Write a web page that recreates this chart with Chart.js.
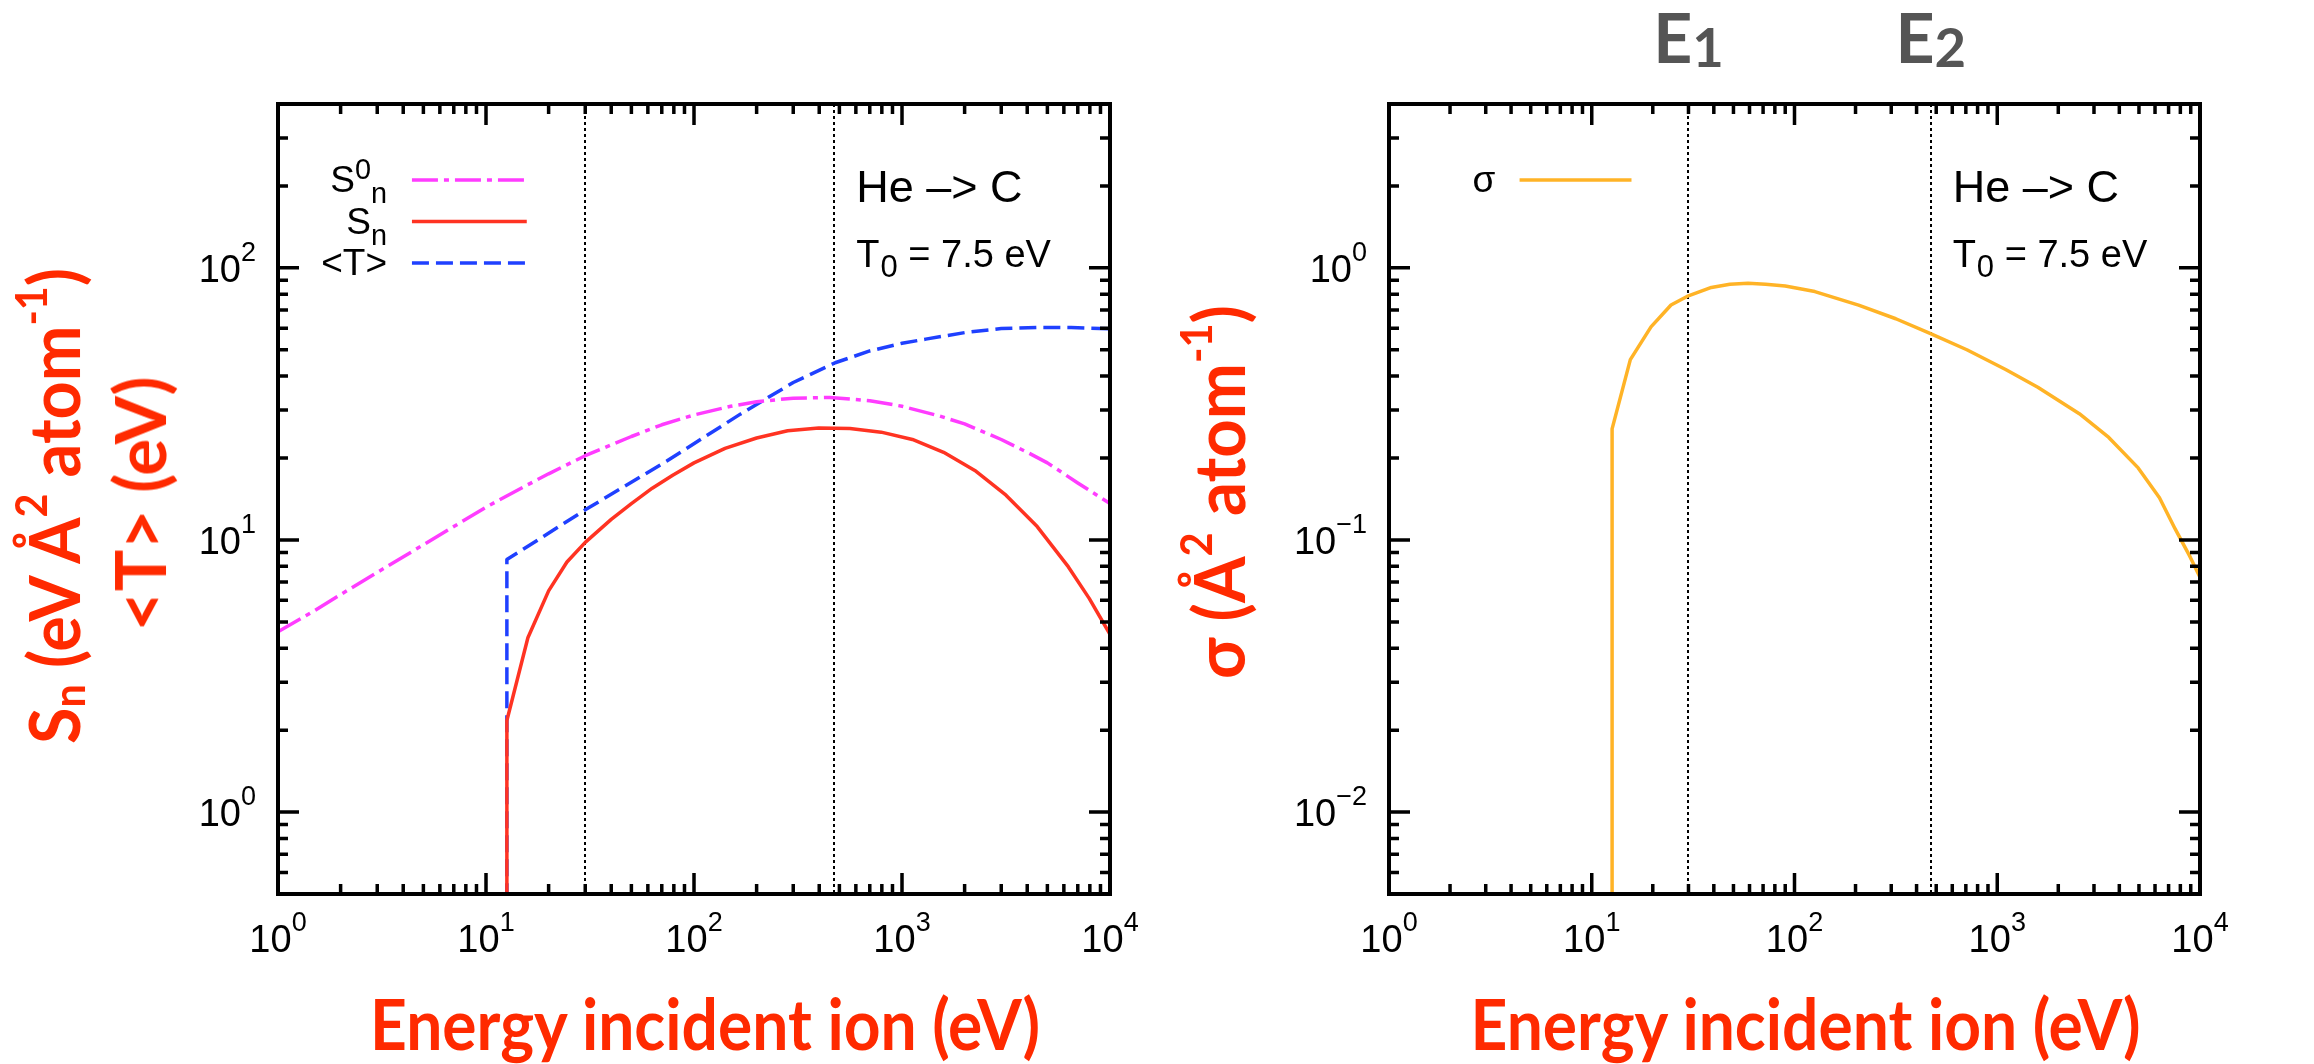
<!DOCTYPE html>
<html>
<head>
<meta charset="utf-8">
<title>He -> C: nuclear stopping, mean transfer and cross section</title>
<script src="https://cdn.jsdelivr.net/npm/chart.js@4.4.1/dist/chart.umd.min.js"></script>
<style>
  html, body { margin: 0; padding: 0; background: #fff; }
  body { width: 2314px; height: 1064px; position: relative; overflow: hidden; }
  canvas { position: absolute; top: 0; }
  #cLeft { left: 0; }
  #cRight { left: 1157px; }
  .title, .mark {
    position: absolute; left: 0; top: 0; white-space: nowrap; transform-origin: 0 0;
    font-family: "Lato", "Open Sans", sans-serif; font-weight: 700; line-height: 1;
  }
  .title { color: #ff2a00; }
  .mark { color: #555; }
  .title sub, .title sup { font-size: 0.62em; line-height: 0; }
  .title sup { vertical-align: 0.75em; }
  .title sub { vertical-align: -0.12em; }
  .mark sub { font-size: 0.8em; vertical-align: -0.08em; line-height: 0; }
</style>
</head>
<body>
<canvas id="cLeft" width="1157" height="1064"></canvas>
<canvas id="cRight" width="1157" height="1064"></canvas>

<div class="title" id="xTitleLeft">Energy incident ion (eV)</div>
<div class="title" id="xTitleRight">Energy incident ion (eV)</div>
<div class="title" id="yTitleLeft1">S<sub>n</sub> (eV Å<sup>2</sup> atom<sup>-1</sup>)</div>
<div class="title" id="yTitleLeft2">&lt;T&gt; (eV)</div>
<div class="title" id="yTitleRight">σ (Å<sup>2</sup> atom<sup>-1</sup>)</div>
<div class="mark" id="markE1">E<sub>1</sub></div>
<div class="mark" id="markE2">E<sub>2</sub></div>

<script>
// ---- data (energies in eV) ----
const energyS0 = [1, 1.5, 2, 3, 5, 7, 10, 15, 20, 30, 50, 70, 100, 150, 200, 300, 450, 700, 1000, 1500, 2000, 3000, 4000, 5000, 7000, 10000];
const stoppingS0 = [4.6, 5.5, 6.3, 7.6, 9.6, 11.2, 13.2, 15.6, 17.5, 20.4, 24.0, 26.5, 28.8, 31.0, 32.2, 33.2, 33.4, 32.5, 31.0, 28.6, 26.7, 23.4, 21.0, 19.2, 16.2, 13.6];

const energySn = [12.6, 12.6, 15.9, 20, 24.5, 30, 40, 50, 63, 79, 100, 141, 200, 282, 398, 562, 794, 1122, 1585, 2239, 3162, 4467, 6310, 7943, 10000];
const stoppingSn = [0.01, 2.17, 4.37, 6.5, 8.3, 9.8, 11.9, 13.6, 15.5, 17.3, 19.2, 21.7, 23.7, 25.2, 25.8, 25.7, 24.9, 23.4, 21.0, 18.0, 14.6, 11.2, 7.96, 6.1, 4.5];

const energyT = [12.6, 12.6, 30, 74, 167, 300, 477, 700, 1000, 1300, 2000, 3000, 4500, 6500, 10000];
const meanT = [0.01, 8.47, 12.9, 19.5, 29.0, 37.9, 44.8, 49.5, 52.8, 54.7, 57.8, 59.8, 60.4, 60.3, 59.7];

const energySigma = [12.6, 12.6, 15.5, 19.6, 24.6, 29.5, 38.9, 48, 59, 72, 90, 126, 207, 316, 469, 708, 1100, 1585, 2540, 3548, 4955, 6310, 7530, 8913, 10000];
const crossSection = [0.001, 0.256, 0.46, 0.607, 0.73, 0.785, 0.847, 0.871, 0.877, 0.871, 0.857, 0.818, 0.729, 0.65, 0.573, 0.50, 0.423, 0.364, 0.291, 0.238, 0.184, 0.143, 0.11, 0.087, 0.073];

const markerEnergies = [30, 470];           // E1, E2
const xDecades = [0, 1, 2, 3, 4];
const yDecadesLeft = [0, 1, 2];
const yDecadesRight = [-2, -1, 0];

// ---- styling ----
const COLORS = { s0: '#ff3cff', sn: '#ff3322', t: '#1f40ff', sigma: '#ffb326' };
const TICK_FONT = '"Liberation Sans", Arial, sans-serif';

const pts = (xs, ys) => xs.map((x, i) => ({ x, y: ys[i] }));

function supText(ctx, parts, xRight, baseline, size) {
  // parts: [{t, pos:'base'|'sup'|'sub'}] drawn right-aligned ending at xRight
  const small = size * 0.78;
  let total = 0;
  const widths = parts.map(p => {
    ctx.font = `${p.pos === 'base' ? size : small}px ${TICK_FONT}`;
    const w = ctx.measureText(p.t).width; total += w; return w;
  });
  let x = xRight - total;
  parts.forEach((p, i) => {
    ctx.font = `${p.pos === 'base' ? size : small}px ${TICK_FONT}`;
    const dy = p.pos === 'sup' ? -size * 0.36 : p.pos === 'sub' ? size * 0.3 : 0;
    ctx.fillText(p.t, x, baseline + dy);
    x += widths[i];
  });
  return total;
}

function drawPower(ctx, exp, x, y, align) {
  const size = 38, supSize = 27, raise = 21;
  const base = '10';
  const sup = exp < 0 ? '\u2212' + (-exp) : String(exp);
  ctx.font = `${size}px ${TICK_FONT}`;
  const wb = ctx.measureText(base).width;
  ctx.font = `${supSize}px ${TICK_FONT}`;
  const ws = ctx.measureText(sup).width;
  const total = wb + ws;
  const x0 = align === 'center' ? x - total / 2 : x - total;
  ctx.font = `${size}px ${TICK_FONT}`;
  ctx.fillText(base, x0, y);
  ctx.font = `${supSize}px ${TICK_FONT}`;
  ctx.fillText(sup, x0 + wb, y - raise);
}

// Frame, inward log ticks on all four sides, decade labels, E1/E2 guides,
// the in-plot key and the reaction annotation.
const decorPlugin = {
  id: 'decor',
  beforeDatasetsDraw(chart) {
    const { ctx, chartArea: a, scales: { x } } = chart;
    ctx.save();
    ctx.strokeStyle = '#000';
    ctx.lineWidth = 2;
    ctx.setLineDash([3, 3]);
    markerEnergies.forEach(e => {
      const px = Math.round(x.getPixelForValue(e));
      ctx.beginPath();
      ctx.moveTo(px, a.top);
      ctx.lineTo(px, a.bottom);
      ctx.stroke();
    });
    ctx.restore();
  },
  afterDatasetsDraw(chart, args, opts) {
    const { ctx, chartArea: a, scales: { x, y } } = chart;
    ctx.save();
    ctx.strokeStyle = '#000';
    ctx.fillStyle = '#000';
    ctx.lineWidth = 3.5;
    ctx.lineCap = 'butt';

    const majorLen = 21, minorLen = 10;
    // x ticks
    for (let k = 0; k < 4; k++) {
      for (let m = 1; m <= 9; m++) {
        const v = m * Math.pow(10, k);
        const px = x.getPixelForValue(v);
        const len = m === 1 ? majorLen : minorLen;
        ctx.beginPath();
        ctx.moveTo(px, a.bottom); ctx.lineTo(px, a.bottom - len);
        ctx.moveTo(px, a.top); ctx.lineTo(px, a.top + len);
        ctx.stroke();
      }
    }
    // y ticks
    const yMin = y.min, yMax = y.max;
    for (let k = Math.floor(Math.log10(yMin)); k <= Math.ceil(Math.log10(yMax)); k++) {
      for (let m = 1; m <= 9; m++) {
        const v = m * Math.pow(10, k);
        if (v < yMin * 0.999 || v > yMax * 1.001) continue;
        const py = y.getPixelForValue(v);
        const len = m === 1 ? majorLen : minorLen;
        ctx.beginPath();
        ctx.moveTo(a.left, py); ctx.lineTo(a.left + len, py);
        ctx.moveTo(a.right, py); ctx.lineTo(a.right - len, py);
        ctx.stroke();
      }
    }
    // frame
    ctx.lineWidth = 4;
    ctx.strokeRect(a.left, a.top, a.right - a.left, a.bottom - a.top);

    // decade labels
    ctx.textBaseline = 'alphabetic';
    ctx.textAlign = 'left';
    xDecades.forEach(d => drawPower(ctx, d, x.getPixelForValue(Math.pow(10, d)), a.bottom + 58, 'center'));
    opts.yDecades.forEach(d => drawPower(ctx, d, a.left - 22, y.getPixelForValue(Math.pow(10, d)) + 14, 'right'));

    // key
    const w = a.right - a.left;
    const textRight = a.left + 0.131 * w;
    const s0 = a.left + 0.161 * w, s1 = a.left + 0.299 * w;
    opts.key.forEach((item, i) => {
      const ly = a.top + 76 + i * 41.5;
      ctx.fillStyle = '#000';
      supText(ctx, item.parts, textRight, ly + 12, 37);
      const ds = chart.data.datasets[item.dataset];
      ctx.strokeStyle = ds.borderColor;
      ctx.lineWidth = ds.borderWidth;
      ctx.setLineDash(ds.borderDash || []);
      ctx.beginPath();
      ctx.moveTo(s0, ly); ctx.lineTo(s1, ly);
      ctx.stroke();
    });
    ctx.setLineDash([]);

    // reaction annotation
    ctx.fillStyle = '#000';
    const ax = a.left + 0.695 * w;
    ctx.font = `45px ${TICK_FONT}`;
    ctx.fillText('He \u2013> C', ax, a.top + 98);
    ctx.font = `38px ${TICK_FONT}`;
    ctx.fillText('T', ax, a.top + 163);
    const wT = ctx.measureText('T').width;
    ctx.font = `31px ${TICK_FONT}`;
    ctx.fillText('0', ax + wT + 1, a.top + 173);
    const w0 = ctx.measureText('0').width;
    ctx.font = `38px ${TICK_FONT}`;
    ctx.fillText(' = 7.5 eV', ax + wT + w0 + 1, a.top + 163);
    ctx.restore();
  }
};

function makeChart(id, datasets, yMin, yMax, yWidth, padRight, decor) {
  return new Chart(document.getElementById(id), {
    type: 'scatter',
    data: { datasets },
    options: {
      responsive: false,
      animation: false,
      devicePixelRatio: 1,
      layout: { padding: { left: 0, top: 104, right: padRight, bottom: 0 } },
      elements: { point: { radius: 0, hoverRadius: 0 }, line: { tension: 0 } },
      plugins: { legend: { display: false }, tooltip: { enabled: false }, decor },
      scales: {
        x: {
          type: 'logarithmic', min: 1, max: 10000,
          ticks: { display: false }, grid: { display: false }, border: { display: false },
          afterFit: s => { s.height = 170; }
        },
        y: {
          type: 'logarithmic', min: yMin, max: yMax,
          ticks: { display: false }, grid: { display: false }, border: { display: false },
          afterFit: s => { s.width = yWidth; }
        }
      }
    },
    plugins: [decorPlugin]
  });
}

const lineDs = (data, color, dash) => ({
  data, showLine: true, borderColor: color, backgroundColor: color,
  borderWidth: 3.5, borderDash: dash, pointRadius: 0, fill: false,
  borderJoinStyle: 'round'
});

const left = makeChart('cLeft', [
  lineDs(pts(energyS0, stoppingS0), COLORS.s0, [26, 6, 5, 6]),
  lineDs(pts(energySn, stoppingSn), COLORS.sn, []),
  lineDs(pts(energyT, meanT), COLORS.t, [17, 7])
], 0.5, 400, 278, 47, {
  yDecades: yDecadesLeft,
  key: [
    { dataset: 0, parts: [{ t: 'S', pos: 'base' }, { t: '0', pos: 'sup' }, { t: 'n', pos: 'sub' }] },
    { dataset: 1, parts: [{ t: 'S', pos: 'base' }, { t: 'n', pos: 'sub' }] },
    { dataset: 2, parts: [{ t: '<T>', pos: 'base' }] }
  ]
});

const right = makeChart('cRight', [
  lineDs(pts(energySigma, crossSection), COLORS.sigma, [])
], 0.005, 4, 232, 114, {
  yDecades: yDecadesRight,
  key: [
    { dataset: 0, parts: [{ t: 'σ', pos: 'base' }] }
  ]
});

// ---- titles and E1/E2 labels ----
// Each label is anchored by the middle of its baseline; `len` stretches the
// run of text to the wanted length.
const BASELINE = 0.887;   // Lato baseline inside a line-height:1 box
function place(el, cx, by, size, len) {
  el.style.fontSize = size + 'px';
  const natural = el.getBoundingClientRect().width;
  const sx = len ? len / natural : 1;
  el.style.transform =
    `translate(${cx}px, ${by}px) scaleX(${sx}) translate(${-natural / 2}px, ${-BASELINE * size}px)`;
}
// vertical titles read bottom-to-top: first argument is the baseline x, second the centre y
function placeV(el, bx, cy, size, len) {
  el.style.fontSize = size + 'px';
  const natural = el.getBoundingClientRect().width;
  const sx = len / natural;
  el.style.transform =
    `translate(${bx}px, ${cy}px) rotate(-90deg) scaleX(${sx}) translate(${-natural / 2}px, ${-BASELINE * size}px)`;
}
const la = left.chartArea, ra = right.chartArea;
const RX = 1157;
place(document.getElementById('xTitleLeft'), (la.left + la.right) / 2 + 11, 1050, 71, 670);
place(document.getElementById('xTitleRight'), RX + (ra.left + ra.right) / 2 + 11, 1050, 71, 670);
placeV(document.getElementById('yTitleLeft1'), 80, 506, 71, 476);
placeV(document.getElementById('yTitleLeft2'), 166, 504, 71, 255);
placeV(document.getElementById('yTitleRight'), RX + 88, 492, 71, 374);
markerEnergies.forEach((e, i) => {
  const el = document.getElementById(i === 0 ? 'markE1' : 'markE2');
  place(el, RX + right.scales.x.getPixelForValue(e), 63, 68, 0);
});
</script>
</body>
</html>
